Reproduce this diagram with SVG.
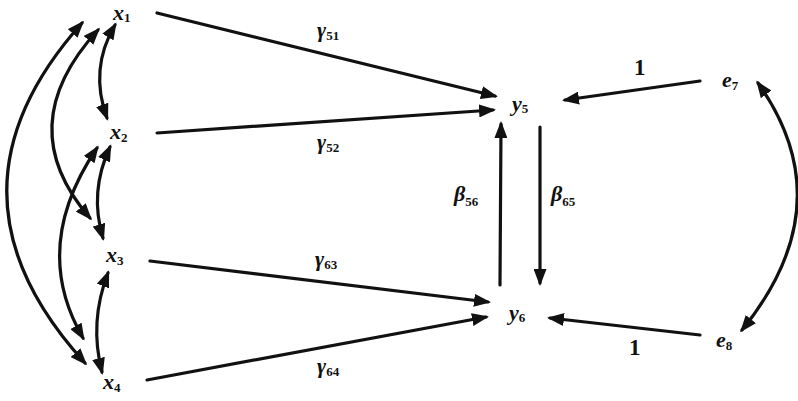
<svg xmlns="http://www.w3.org/2000/svg" width="798" height="401" viewBox="0 0 798 401">
<defs>
<marker id="ah" markerUnits="userSpaceOnUse" markerWidth="17" markerHeight="13" refX="14" refY="6.5" orient="auto-start-reverse" viewBox="0 0 17 13">
<path d="M0,0 L17,6.5 L0,13 z" fill="#111"/>
</marker>
<style>
.c{fill:none;stroke:#111;stroke-width:3.2;stroke-linecap:round}
.s1{marker-end:url(#ah)}
.s2{marker-start:url(#ah);marker-end:url(#ah)}
.v{font-family:"Liberation Serif",serif;font-style:italic;font-weight:bold;font-size:22px;fill:#111}
.g{font-family:"Liberation Serif",serif;font-style:italic;font-weight:bold;font-size:22px;fill:#111}
.sub{font-family:"Liberation Serif",serif;font-style:normal;font-weight:bold;font-size:13px}
.n{font-family:"Liberation Serif",serif;font-weight:bold;font-size:23px;fill:#111}
</style>
</defs>
<rect width="798" height="401" fill="#fff"/>
<g id="connectors">
<path class="c s1" d="M157,13 L495,96"/>
<path class="c s1" d="M157,133 L493,110"/>
<path class="c s1" d="M150,261 L488,302"/>
<path class="c s1" d="M147,380 L486,317"/>
<path class="c s1" d="M500,285 L501,124"/>
<path class="c s1" d="M540,127 L540,283"/>
<path class="c s1" d="M700,81 L565,100"/>
<path class="c s1" d="M700,335 L550,318"/>
<path class="c s2" d="M82,23 Q-70,193 85,363"/>
<path class="c s2" d="M98,30 Q10,126 90,218"/>
<path class="c s2" d="M97,148 Q30,247 83,338"/>
<path class="c s2" d="M115,25 Q89,69 107,118"/>
<path class="c s2" d="M110,147 Q89,192 103,238"/>
<path class="c s2" d="M108,273 Q89,322 102,372"/>
<path class="c s2" d="M758,83 Q844,204 742,330"/>
<text class="g" x="317" y="37">γ<tspan class="sub" dy="3">51</tspan></text>
<text class="g" x="317" y="149">γ<tspan class="sub" dy="3">52</tspan></text>
<text class="g" x="315" y="266">γ<tspan class="sub" dy="3">63</tspan></text>
<text class="g" x="317" y="373">γ<tspan class="sub" dy="3">64</tspan></text>
<text class="g" x="454" y="201">β<tspan class="sub" dy="5">56</tspan></text>
<text class="g" x="551" y="201">β<tspan class="sub" dy="5">65</tspan></text>
<text class="n" x="634" y="75">1</text>
<text class="n" x="629" y="355">1</text>
</g>
<g id="x1"><text class="v" x="113" y="20">x<tspan class="sub" dy="2">1</tspan></text></g>
<g id="x2"><text class="v" x="110" y="139">x<tspan class="sub" dy="3">2</tspan></text></g>
<g id="x3"><text class="v" x="106" y="262">x<tspan class="sub" dy="3">3</tspan></text></g>
<g id="x4"><text class="v" x="103" y="389">x<tspan class="sub" dy="3">4</tspan></text></g>
<g id="y5"><text class="v" x="512" y="111">y<tspan class="sub" dy="2">5</tspan></text></g>
<g id="y6"><text class="v" x="509" y="320">y<tspan class="sub" dy="2">6</tspan></text></g>
<g id="e7"><text class="v" x="722" y="87">e<tspan class="sub" dy="3">7</tspan></text></g>
<g id="e8"><text class="v" x="716" y="347">e<tspan class="sub" dy="3">8</tspan></text></g>
</svg>
